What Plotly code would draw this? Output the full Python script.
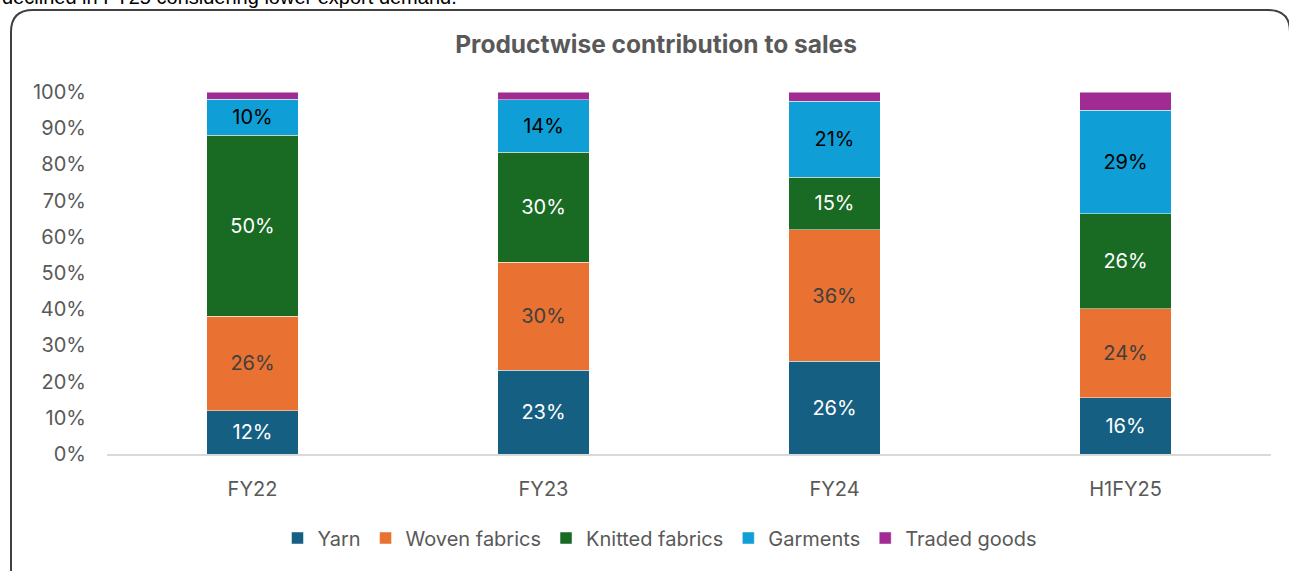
import plotly.graph_objects as go

categories = ["FY22", "FY23", "FY24", "H1FY25"]
yarn = [12.0, 23.2, 25.6, 15.6]
woven = [26.1, 29.8, 36.3, 24.5]
knitted = [49.9, 30.4, 14.6, 26.2]
garments = [10.0, 14.4, 20.9, 28.7]
traded = [2.0, 2.2, 2.6, 5.0]

series = [
    ("Yarn", yarn, "#156082", "#FFFFFF", True),
    ("Woven fabrics", woven, "#E97132", "#404040", True),
    ("Knitted fabrics", knitted, "#196B24", "#FFFFFF", True),
    ("Garments", garments, "#0F9ED5", "#000000", True),
    ("Traded goods", traded, "#A02B93", "#FFFFFF", False),
]

FONT = "Inter"
W, H = 1289, 571
L, R, T, B = 107, 18, 92, 117
PW = W - L - R
PH = H - T - B

def px(x):
    return (x - L) / PW

def py(y):
    return (H - B - y) / PH

fig = go.Figure()
for name, vals, color, tcolor, show in series:
    fig.add_trace(go.Bar(
        x=categories, y=vals, name=name,
        marker=dict(color=color, line=dict(color="rgba(255,255,255,0.6)", width=0.8)),
        text=[f"{v:.0f}%" for v in vals] if show else None,
        textposition="inside" if show else "none",
        insidetextanchor="middle",
        textangle=0,
        textfont=dict(color=tcolor, size=20, family=FONT),
        hoverinfo="x+y+name",
    ))

# rounded border box
x0, x1, y0, y1, r = 11, 1290, 10, 580, 22
path = (f"M {px(x0)},{py(y1)} L {px(x0)},{py(y0 + r)} "
        f"Q {px(x0)},{py(y0)} {px(x0 + r)},{py(y0)} "
        f"L {px(x1 - r)},{py(y0)} Q {px(x1)},{py(y0)} {px(x1)},{py(y0 + r)} "
        f"L {px(x1)},{py(y1)}")
fig.add_shape(type="path", path=path, xref="paper", yref="paper",
              line=dict(color="#404040", width=2), layer="below")

fig.add_annotation(
    text="declined in FY25 considering lower export demand.",
    xref="paper", yref="paper", x=px(0), y=py(10), xanchor="left", yanchor="bottom",
    showarrow=False, font=dict(family="Liberation Sans", size=20, color="#000000"),
)

fig.update_layout(
    width=W, height=H,
    barmode="stack",
    bargap=0.687,
    paper_bgcolor="white", plot_bgcolor="white",
    margin=dict(l=L, r=R, t=T, b=B),
    title=dict(text="<b>Productwise contribution to sales</b>", x=656 / W, xref="container",
               xanchor="center", y=1 - 44 / H, yanchor="middle",
               font=dict(family=FONT, size=24.5, color="#595959")),
    font=dict(family=FONT, size=20, color="#595959"),
    showlegend=True,
    legend=dict(orientation="h", x=660 / W, xanchor="center", xref="container",
                y=1 - 538 / H, yref="container", yanchor="middle",
                font=dict(family=FONT, size=20, color="#595959"),
                traceorder="normal", itemwidth=30),
    uniformtext=dict(mode=False),
)
fig.update_xaxes(showline=True, linecolor="#D9D9D9", linewidth=1.5, showgrid=False,
                 ticks="", ticklabelstandoff=16,
                 tickfont=dict(family=FONT, size=20, color="#595959"))
fig.update_yaxes(range=[0, 100], dtick=10, ticksuffix="%", showgrid=False, zeroline=False,
                 showline=False, ticks="", ticklabelstandoff=20,
                 tickfont=dict(family=FONT, size=20, color="#595959"))

fig.write_html("out.html")
